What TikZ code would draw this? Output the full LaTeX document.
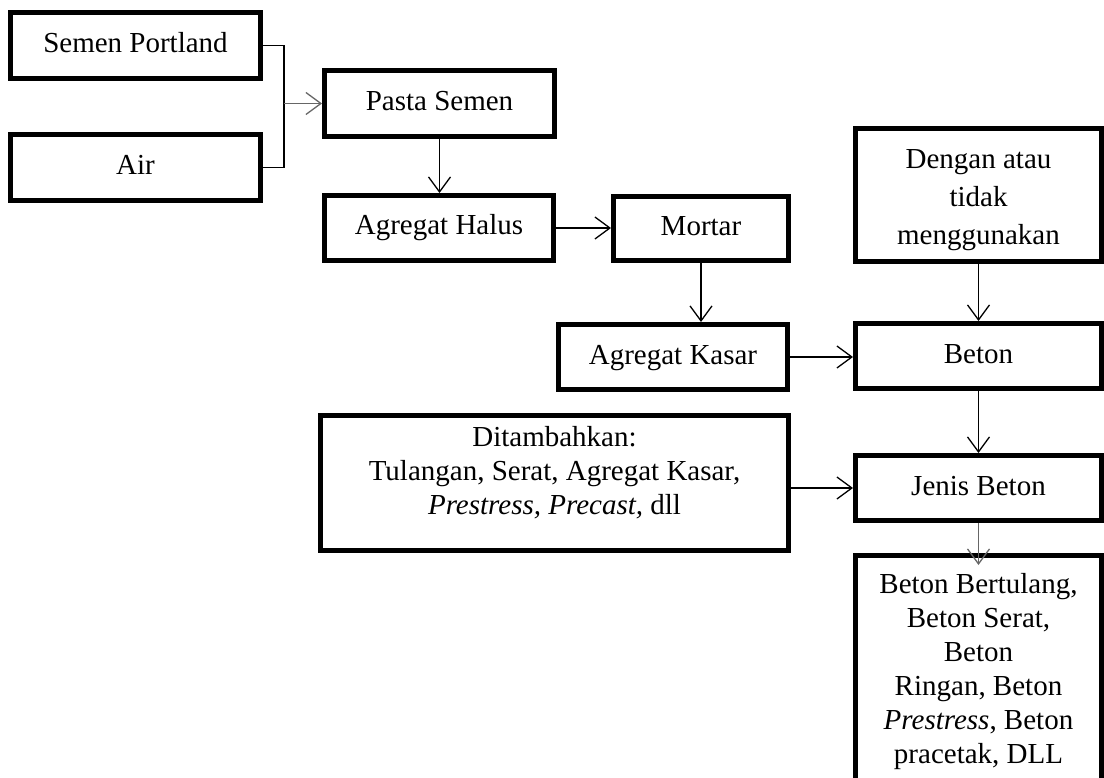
\documentclass[tikz,border=0pt]{standalone}
\usepackage{fontspec}
\setmainfont{Liberation Serif}
\usetikzlibrary{arrows.meta}
\begin{document}
\begin{tikzpicture}[x=1pt,y=-1pt,
  box/.style={draw=black, line width=5pt, fill=white, rectangle, inner sep=0pt,
    font=\fontsize{29}{34}\selectfont, text height=20pt, text depth=6pt},
  conn/.style={line width=1.3pt, draw=black},
  arr/.style={conn, -{Straight Barb[length=15pt,width=22pt]}},
  garr/.style={arr, draw=black!60}]
\useasboundingbox (0,0) rectangle (1104,778);
\clip (0,0) rectangle (1104,778);
\node[box, minimum width=250pt, minimum height=66pt] (sp) at (135.5,45.5) {Semen Portland};
\node[box, minimum width=250pt, minimum height=66pt] (air) at (135.5,167.5) {Air};
\node[box, minimum width=230pt, minimum height=66pt] (pasta) at (439.5,103.5) {Pasta Semen};
\node[box, minimum width=229pt, minimum height=65pt] (halus) at (439,228) {Agregat Halus};
\node[box, minimum width=175pt, minimum height=64pt] (mortar) at (701,228.5) {Mortar};
\node[box, minimum width=229pt, minimum height=65pt] (kasar) at (673,357) {Agregat Kasar};
\node[box, minimum width=246pt, minimum height=133pt, align=center,
  font=\fontsize{29}{38}\selectfont, text height=100pt, text depth=0pt] (dengan) at (978.5,195)
  {Dengan atau\\tidak\\menggunakan};
\node[box, minimum width=246pt, minimum height=65pt] (beton) at (978.5,356) {Beton};
\node[box, minimum width=246pt, minimum height=65pt] (jenis) at (978.5,488) {Jenis Beton};
\node[box, minimum width=468pt, minimum height=135pt, align=center, text height=88pt, text depth=26pt] (dit) at (554.5,483)
  {Ditambahkan:\\Tulangan, Serat, Agregat Kasar,\\\textit{Prestress, Precast,} dll};
\node[box, anchor=north, minimum width=246pt, inner ysep=17.5pt, align=center, text height=190pt, text depth=6pt] (bot) at (978.5,553)
  {Beton Bertulang,\\Beton Serat,\\Beton\\Ringan, Beton\\\textit{Prestress}, Beton\\pracetak, DLL};
\coordinate (j) at (284,103.5);
\draw[conn] (sp.east) -| (j) |- (air.east);
\draw[garr] (j) -- (pasta.west);
\draw[arr] (pasta.south) -- (pasta.south |- halus.north);
\draw[arr] (halus.east) -- (halus.east -| mortar.west);
\draw[arr] (mortar.south) -- (mortar.south |- kasar.north);
\draw[arr] (kasar.east) -- (kasar.east -| beton.west);
\draw[arr] (dengan.south) -- (beton.north);
\draw[arr] (beton.south) -- (jenis.north);
\draw[arr] (dit.east |- jenis.west) -- (jenis.west);
\draw[garr] (jenis.south) -- ([yshift=-12pt]bot.north);
\end{tikzpicture}
\end{document}
